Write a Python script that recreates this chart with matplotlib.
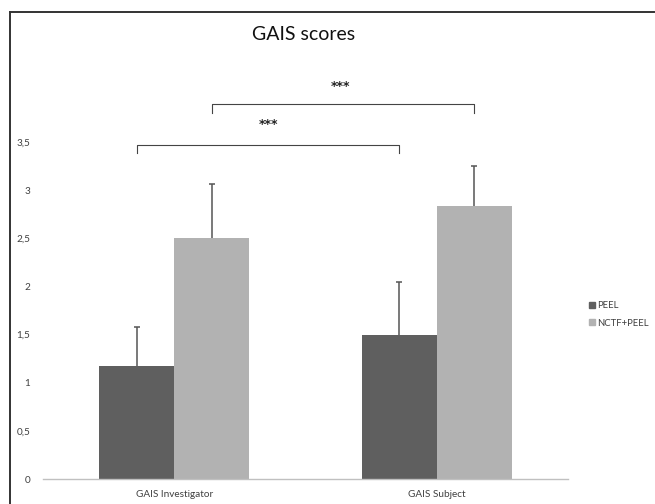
import matplotlib.pyplot as plt
import numpy as np
from matplotlib.lines import Line2D

plt.rcParams['font.family'] = ['Lato', 'DejaVu Sans']

categories = ['GAIS Investigator', 'GAIS Subject']
series = ['PEEL', 'NCTF+PEEL']
peel = [1.17, 1.50]
peel_err = [0.41, 0.55]
nctf = [2.50, 2.83]
nctf_err = [0.56, 0.42]
yticks = [0, 0.5, 1, 1.5, 2, 2.5, 3, 3.5]
ytick_labels = ['0', '0,5', '1', '1,5', '2', '2,5', '3', '3,5']

dark = '#5f5f5f'
light = '#b2b2b2'
errc = '#555555'

fig = plt.figure(figsize=(6.55, 5.04), dpi=100)
ax = fig.add_axes([0.0656, 0.0496, 0.8015, 0.8313])

x = np.arange(len(categories))
w = 0.285
ax.bar(x - w / 2, peel, w, color=dark, label=series[0])
ax.bar(x + w / 2, nctf, w, color=light, label=series[1])

# upward-only error bars with a cap on top
for xs, vals, errs in [(x - w / 2, peel, peel_err), (x + w / 2, nctf, nctf_err)]:
    tops = np.array(vals) + np.array(errs)
    ax.vlines(xs, vals, tops, color=errc, lw=1.1)
    ax.plot(xs, tops, ls='none', marker='_', markersize=5, mew=1.1, color=errc)

ax.set_xlim(-0.5, 1.5)
ax.set_ylim(0, 4.35)
ax.set_yticks(yticks)
ax.set_yticklabels(ytick_labels)
ax.set_xticks(x)
ax.set_xticklabels(categories)
ax.tick_params(axis='both', length=0, labelsize=7.2, colors='#404040')
ax.tick_params(axis='y', pad=9)
ax.tick_params(axis='x', pad=8)
for s in ['left', 'right', 'top']:
    ax.spines[s].set_visible(False)
ax.spines['bottom'].set_color('#c0c0c0')
ax.spines['bottom'].set_linewidth(1)


def bracket(x1, x2, y, txt, tx, ty):
    ax.plot([x1, x1, x2, x2], [y - 0.09, y, y, y - 0.09],
            color='#444444', lw=0.8, clip_on=False)
    ax.text(tx, ty, txt, ha='center', va='center', fontsize=9,
            fontweight='bold', color='#222222', family='DejaVu Sans')


bracket(x[0] - w / 2, x[1] - w / 2, 3.47, '***', 0.36, 3.68)
bracket(x[0] + w / 2, x[1] + w / 2, 3.89, '***', 0.635, 4.08)

fig.text(0.464, 0.932, 'GAIS scores', ha='center', va='center', fontsize=14,
         color='#111111')

handles = [Line2D([], [], marker='s', ls='none', color=dark, markersize=4.5),
           Line2D([], [], marker='s', ls='none', color=light, markersize=4.5)]
fig.legend(handles, series, loc='center left', bbox_to_anchor=(0.886, 0.376),
           frameon=False, fontsize=6.8, handlelength=0.6, handletextpad=0.25,
           labelspacing=0.9, labelcolor='#404040')

# frame lines on left and top of the figure
fig.add_artist(Line2D([9.5 / 655, 9.5 / 655], [0, 1 - 12 / 504],
                      color='#333333', lw=1.4, transform=fig.transFigure))
fig.add_artist(Line2D([9.5 / 655, 654 / 655], [1 - 12 / 504, 1 - 12 / 504],
                      color='#333333', lw=1.4, transform=fig.transFigure))

fig.savefig('out.png', dpi=100)
